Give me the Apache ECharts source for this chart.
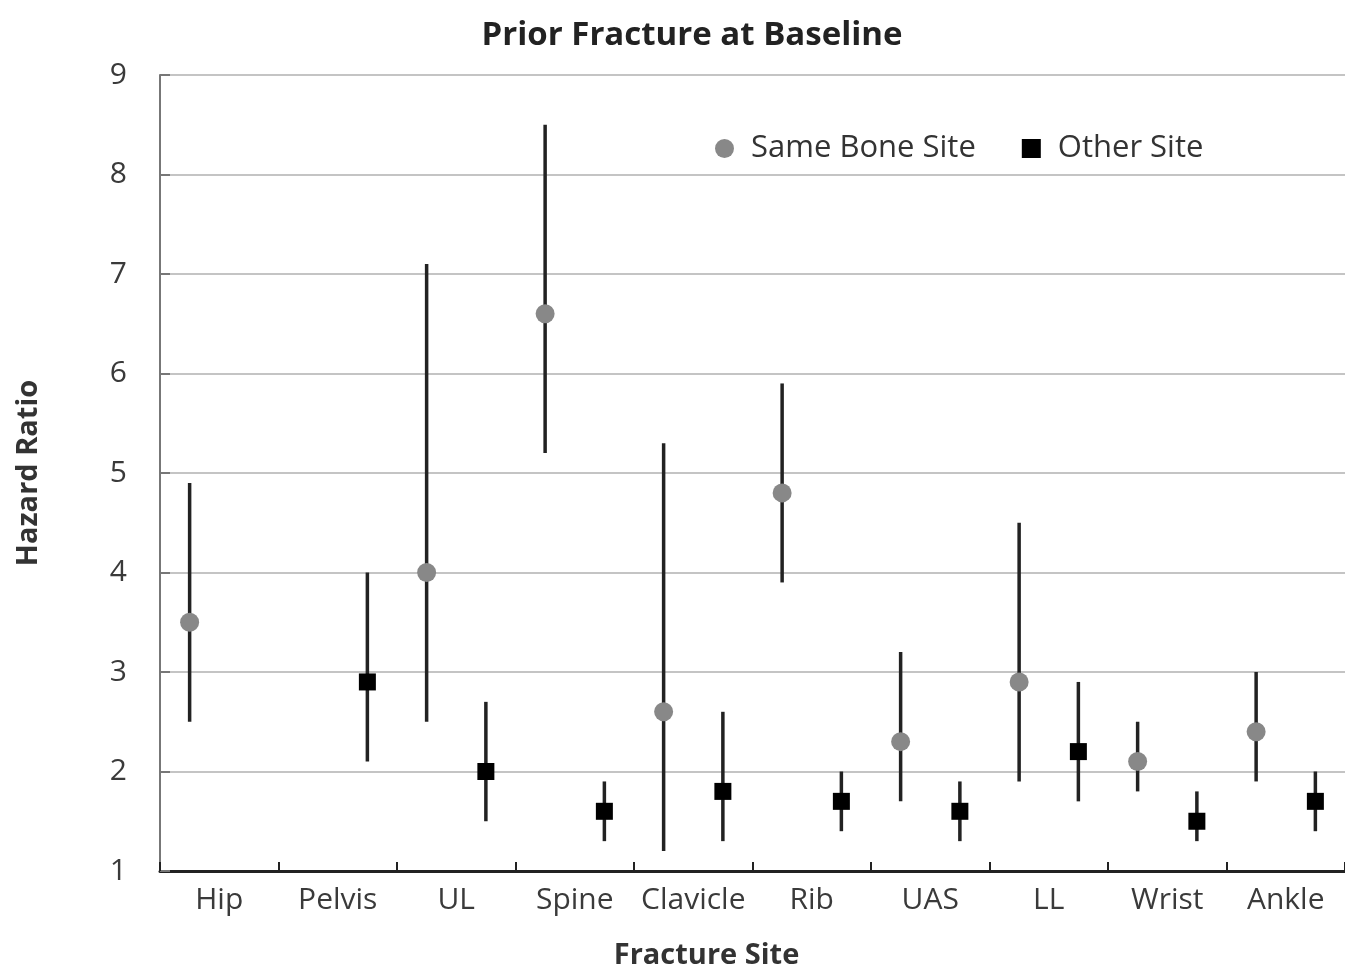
<!DOCTYPE html>
<html><head><meta charset="utf-8">
<script src="https://cdn.jsdelivr.net/npm/echarts@6/dist/echarts.min.js"></script>
<style>html,body{margin:0;padding:0;background:#fff}#c{width:1345px;height:968px}</style>
</head><body><div id="c"></div>
<script>
const categories = ['Hip','Pelvis','UL','Spine','Clavicle','Rib','UAS','LL','Wrist','Ankle'];
// Same bone site: hazard ratio, lower CI, upper CI (null = not shown)
const sameHR  = [3.5, null, 4.0, 6.6, 2.6, 4.8, 2.3, 2.9, 2.1, 2.4];
const sameLo  = [2.5, null, 2.5, 5.2, 1.2, 3.9, 1.7, 1.9, 1.8, 1.9];
const sameHi  = [4.9, null, 7.1, 8.5, 5.3, 5.9, 3.2, 4.5, 2.5, 3.0];
// Other site
const otherHR = [null, 2.9, 2.0, 1.6, 1.8, 1.7, 1.6, 2.2, 1.5, 1.7];
const otherLo = [null, 2.1, 1.5, 1.3, 1.3, 1.4, 1.3, 1.7, 1.3, 1.4];
const otherHi = [null, 4.0, 2.7, 1.9, 2.6, 2.0, 1.9, 2.9, 1.8, 2.0];
const yTicks = [1,2,3,4,5,6,7,8,9];

const FONT = '"Open Sans"';
function build(hr, lo, hi){
  const out = [];
  hr.forEach((v,i)=>{ if(v!=null) out.push([i, v, lo[i], hi[i]]); });
  return out;
}
function makeRender(side, shape, color){
  return function(params, api){
    const c = api.value(0), v = api.value(1), l = api.value(2), h = api.value(3);
    const bw = api.size([1,0])[0];
    const p = api.coord([c, v]);
    const pl = api.coord([c, l]);
    const ph = api.coord([c, h]);
    const x = p[0] + side*bw/4;
    const children = [{type:'line', shape:{x1:x,y1:pl[1],x2:x,y2:ph[1]}, style:{stroke:'#222', lineWidth:3.5}}];
    if(shape==='circle') children.push({type:'circle', shape:{cx:x, cy:p[1], r:9.5}, style:{fill:color}});
    else children.push({type:'rect', shape:{x:x-8.5, y:p[1]-8.5, width:17, height:17}, style:{fill:color}});
    return {type:'group', children};
  };
}
const chart = echarts.init(document.getElementById('c'));
chart.setOption({
  animation:false,
  backgroundColor:'#fff',
  title:{text:'Prior Fracture at Baseline', left:687, top:14, textAlign:'center',
    textStyle:{fontFamily:FONT, fontSize:33, fontWeight:'bold', color:'#222'}},
  legend:{left:710, top:128, itemWidth:19, itemHeight:19, itemGap:46,
    textStyle:{fontFamily:FONT, fontSize:31, color:'#333', padding:[0,0,0,12]},
    data:[{name:'Same Bone Site', icon:'circle'},{name:'Other Site', icon:'rect'}]},
  grid:{left:160, right:0, top:75, bottom:97, containLabel:false, outerBoundsMode:'none'},
  xAxis:{type:'category', data:categories, boundaryGap:true,
    name:'Fracture Site', nameLocation:'middle', nameGap:70,
    nameTextStyle:{fontFamily:FONT, fontSize:29, fontWeight:'bold', color:'#333', padding:[0,92,0,0]},
    axisLine:{lineStyle:{color:'#222', width:3}},
    axisTick:{show:true, inside:true, length:9, alignWithLabel:false, lineStyle:{color:'#222', width:2}},
    axisLabel:{fontFamily:FONT, fontSize:30, color:'#3a3a3a', margin:14, interval:0},
    splitLine:{show:false}},
  yAxis:{type:'value', min:1, max:9, interval:1,
    name:'Hazard Ratio', nameLocation:'middle', nameGap:117, nameRotate:90,
    nameTextStyle:{fontFamily:FONT, fontSize:29, fontWeight:'bold', color:'#333'},
    axisLine:{show:true, lineStyle:{color:'#777', width:2}},
    axisTick:{show:true, inside:true, length:10, lineStyle:{color:'#777', width:2}},
    axisLabel:{fontFamily:FONT, fontSize:30, color:'#3a3a3a', margin:33,
      formatter:v=> yTicks.includes(v)? String(v):''},
    splitLine:{show:true, lineStyle:{color:'#c4c4c4', width:2}}},
  series:[
    {name:'Same Bone Site', type:'custom', color:'#888888', itemStyle:{color:'#888888'},
     renderItem:makeRender(-1,'circle','#888888'), encode:{x:0,y:1},
     data:build(sameHR, sameLo, sameHi)},
    {name:'Other Site', type:'custom', color:'#000000', itemStyle:{color:'#000000'},
     renderItem:makeRender(1,'rect','#000000'), encode:{x:0,y:1},
     data:build(otherHR, otherLo, otherHi)}
  ]
});
</script></body></html>
